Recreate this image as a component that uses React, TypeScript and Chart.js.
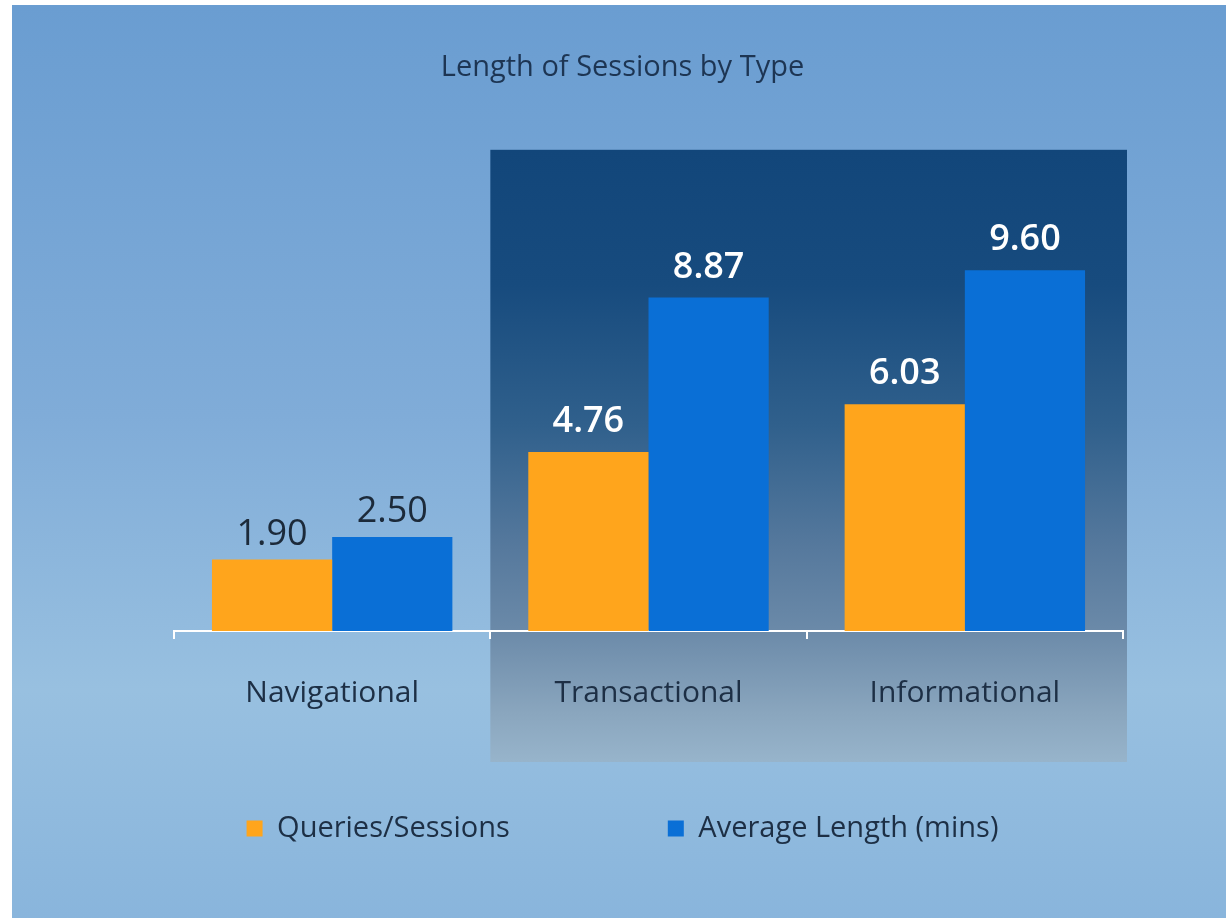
import React, { useEffect, useRef } from "react";
import { Chart, registerables } from "chart.js";

Chart.register(...registerables);

const chartTitle = "Length of Sessions by Type";
const categories = ["Navigational", "Transactional", "Informational"];
const seriesLabels = ["Queries/Sessions", "Average Length (mins)"];
const queriesPerSession = [1.9, 4.76, 6.03];
const averageLengthMins = [2.5, 8.87, 9.6];
const yMin = 0;
const yMax = 14;

const FONT = "'Open Sans', 'Noto Sans', 'DejaVu Sans', sans-serif";
const ORANGE = "#FFA51C";
const BLUE = "#0A6FD6";
const TEXT_DARK = "#1d2f45";

const backgroundPlugin = {
  id: "sessionBackground",
  beforeDraw(chart: any) {
    const { ctx, width, height, chartArea } = chart;
    ctx.save();
    const g = ctx.createLinearGradient(0, 0, 0, height);
    g.addColorStop(0, "#6a9dd1");
    g.addColorStop(0.45, "#80acd8");
    g.addColorStop(0.75, "#98c0e0");
    g.addColorStop(1, "#89b5dc");
    ctx.fillStyle = g;
    ctx.fillRect(0, 0, width, height);

    // highlighted region behind the 2nd and 3rd categories
    const xs = chart.scales.x;
    const left = (xs.getPixelForValue(0) + xs.getPixelForValue(1)) / 2;
    const right = chartArea.right + 4;
    const top = chartArea.top + 45;
    const bottom = chartArea.bottom + 131;
    const hg = ctx.createLinearGradient(0, top, 0, bottom);
    hg.addColorStop(0, "#12467a");
    hg.addColorStop(0.22, "#174b7e");
    hg.addColorStop(0.45, "#30608c");
    hg.addColorStop(0.65, "#56799d");
    hg.addColorStop(0.78, "#6a89a8");
    hg.addColorStop(0.92, "#8aa6be");
    hg.addColorStop(1, "#97b4cb");
    ctx.fillStyle = hg;
    ctx.fillRect(left, top, right - left, bottom - top);
    ctx.restore();
  },
};

const valueLabelPlugin = {
  id: "sessionValueLabels",
  afterDatasetsDraw(chart: any) {
    const { ctx } = chart;
    ctx.save();
    ctx.textAlign = "center";
    ctx.textBaseline = "alphabetic";
    chart.data.datasets.forEach((ds: any, di: number) => {
      const meta = chart.getDatasetMeta(di);
      meta.data.forEach((bar: any, i: number) => {
        const v = ds.data[i];
        const inHighlight = i > 0;
        ctx.font = `${inHighlight ? 600 : 400} 36px ${FONT}`;
        ctx.fillStyle = inHighlight ? "#ffffff" : "#1c2a3a";
        ctx.fillText(Number(v).toFixed(2), bar.x, bar.y - (inHighlight ? 20 : 15));
      });
    });
    ctx.restore();
  },
};

export default function App() {
  const canvasRef = useRef<HTMLCanvasElement | null>(null);

  useEffect(() => {
    if (!canvasRef.current) return;
    const chart = new Chart(canvasRef.current, {
      type: "bar",
      data: {
        labels: categories,
        datasets: [
          {
            label: seriesLabels[0],
            data: queriesPerSession,
            backgroundColor: ORANGE,
            borderWidth: 0,
            barPercentage: 1,
            categoryPercentage: 0.76,
          },
          {
            label: seriesLabels[1],
            data: averageLengthMins,
            backgroundColor: BLUE,
            borderWidth: 0,
            barPercentage: 1,
            categoryPercentage: 0.76,
          },
        ],
      },
      options: {
        responsive: false,
        animation: false,
        events: [],
        layout: { padding: { left: 7, right: 0, top: 0, bottom: 65 } },
        plugins: {
          title: {
            display: true,
            text: chartTitle,
            color: "#1d3553",
            font: { family: FONT, size: 29, weight: "normal" },
            padding: { top: 45, bottom: 20 },
          },
          legend: {
            display: true,
            position: "bottom",
            labels: {
              color: TEXT_DARK,
              font: { family: FONT, size: 29 },
              boxWidth: 16,
              boxHeight: 16,
              padding: 158,
            },
          },
          tooltip: { enabled: false },
        },
        scales: {
          x: {
            grid: {
              display: true,
              drawOnChartArea: false,
              drawTicks: true,
              tickLength: 8,
              color: "#ffffff",
              lineWidth: 2,
              offset: true,
            },
            border: { display: true, color: "#ffffff", width: 2 },
            ticks: {
              color: TEXT_DARK,
              font: { family: FONT, size: 30 },
              mirror: true,
              padding: -80,
            },
            afterFit: (s: any) => {
              s.height = 25;
            },
          },
          y: {
            min: yMin,
            max: yMax,
            grid: { display: false },
            border: { display: false },
            ticks: { display: false },
            afterFit: (s: any) => {
              s.width = 155;
            },
          },
          y2: {
            position: "right",
            grid: { display: false },
            border: { display: false },
            ticks: { display: false },
            afterFit: (s: any) => {
              s.width = 103;
            },
          },
        },
      },
      plugins: [backgroundPlugin, valueLabelPlugin],
    } as any);
    return () => chart.destroy();
  }, []);

  return (
    <div
      style={{
        position: "absolute",
        left: 12,
        top: 5,
        width: 1214,
        height: 913,
      }}
    >
      <canvas ref={canvasRef} width={1214} height={913} style={{ display: "block" }} />
    </div>
  );
}
